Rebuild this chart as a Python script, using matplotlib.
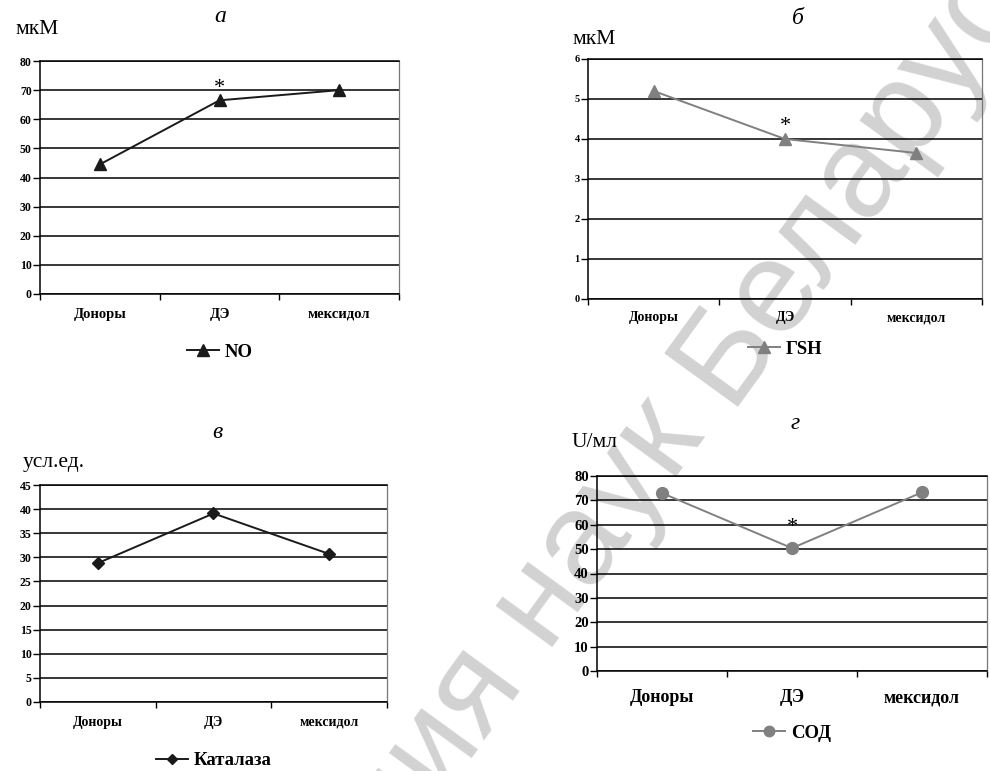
import matplotlib
matplotlib.use("Agg")
import matplotlib.pyplot as plt
import numpy as np
from matplotlib.lines import Line2D

plt.rcParams['font.family'] = ['Liberation Serif', 'DejaVu Serif']

groups = ["Доноры", "ДЭ", "мексидол"]

no_values = [44.5, 66.5, 70.0]
gsh_values = [5.2, 4.0, 3.65]
catalase_values = [28.8, 39.1, 30.7]
sod_values = [73.0, 50.4, 73.3]

no_ticks = [0, 10, 20, 30, 40, 50, 60, 70, 80]
gsh_ticks = [0, 1, 2, 3, 4, 5, 6]
catalase_ticks = [0, 5, 10, 15, 20, 25, 30, 35, 40, 45]
sod_ticks = [0, 10, 20, 30, 40, 50, 60, 70, 80]

W, H = 990, 771
fig = plt.figure(figsize=(W / 100, H / 100), dpi=100)


def frac_box(left, top, right, bottom):
    return [left / W, 1 - bottom / H, (right - left) / W, (bottom - top) / H]


# light diagonal watermark drawn behind the panels
wm_angle = 54
wm_size = 95
wm_dir = np.array([np.cos(np.radians(wm_angle)), -np.sin(np.radians(wm_angle))])
wm_origin = np.array([727.0, 407.0])
wm_space = 0.278 * wm_size * 100 / 72
wm_kw = dict(fontsize=wm_size, color='#d2d2d2', rotation=wm_angle,
             rotation_mode='anchor', va='baseline',
             family=['Liberation Sans', 'DejaVu Sans'], zorder=-5)
fig.text(wm_origin[0] / W, 1 - wm_origin[1] / H, "Беларуси", ha='left', **wm_kw)
p_end = wm_origin - wm_space * wm_dir
fig.text(p_end[0] / W, 1 - p_end[1] / H, "академия наук", ha='right', **wm_kw)


def panel(box, values, ticks, color, marker, msize, label,
          ytick_fs, xtick_fs, xpad, legend_y, legend_fs, star=None):
    ax = fig.add_axes(frac_box(*box))
    ax.set_facecolor('none')
    x = np.arange(len(groups))
    ax.plot(x, values, color=color, lw=1.4, marker=marker, ms=msize,
            mfc=color, mec=color, zorder=4, clip_on=False, label=label)
    ax.set_xlim(-0.5, len(groups) - 0.5)
    ax.set_ylim(ticks[0], ticks[-1])
    ax.set_yticks(ticks)
    ax.set_yticklabels([str(t) for t in ticks], fontsize=ytick_fs, fontweight='bold')
    ax.yaxis.grid(True, color='black', lw=1.1)
    ax.set_axisbelow(True)
    ax.set_xticks(np.arange(-0.5, len(groups)), minor=False)
    ax.set_xticklabels([])
    ax.set_xticks(x, minor=True)
    ax.set_xticklabels(groups, minor=True, fontsize=xtick_fs, fontweight='bold')
    ax.tick_params(axis='x', which='major', direction='out', length=4, width=1)
    ax.tick_params(axis='x', which='minor', length=0, pad=xpad)
    ax.tick_params(axis='y', direction='out', length=5, width=1, pad=1)
    for s in ['left', 'bottom', 'top']:
        ax.spines[s].set_color('black')
        ax.spines[s].set_linewidth(1.1)
    ax.spines['right'].set_color('#777777')
    ax.spines['right'].set_linewidth(0.9)
    if star is not None:
        ax.annotate('*', (1, values[1]), xytext=(0, star), textcoords='offset points',
                    ha='center', va='bottom', fontsize=16, color='black')
    handle = Line2D([], [], color=color, lw=1.4, marker=marker, ms=msize - 1,
                    mfc=color, mec=color)
    ax.legend([handle], [label], loc='center', bbox_to_anchor=(0.5, legend_y),
              frameon=False, handlelength=1.7, handletextpad=0.3,
              prop={'size': legend_fs, 'weight': 'bold'})
    return ax


panel((40, 61, 399, 294), no_values, no_ticks, '#1a1a1a', '^', 9, 'NO',
      8.5, 10.5, 10, -0.25, 13.5, star=2)
panel((588, 59, 982, 299), gsh_values, gsh_ticks, '#808080', '^', 9, 'ГSH',
      7.5, 10, 9, -0.21, 13.5, star=2)
panel((40, 485, 387, 702), catalase_values, catalase_ticks, '#1a1a1a', 'D', 6.5,
      'Каталаза', 8.5, 10, 10, -0.27, 13.5)
panel((597, 476, 987, 671), sod_values, sod_ticks, '#808080', 'o', 8.5, 'СОД',
      10.5, 13, 13, -0.32, 13.5, star=8)

# panel letters
for (px, py, t) in [(220, 17, 'а'), (798, 18, 'б'), (217, 433, 'в'), (795, 423, 'г')]:
    fig.text(px / W, 1 - py / H, t, ha='center', va='center', fontsize=17,
             style='italic')

# units
for (px, py, t) in [(15, 30, 'мкМ'), (572, 40, 'мкМ'), (23, 462, 'усл.ед.'), (572, 443, 'U/мл')]:
    fig.text(px / W, 1 - py / H, t, ha='left', va='center', fontsize=15.5)

fig.savefig('out.png', dpi=100)
